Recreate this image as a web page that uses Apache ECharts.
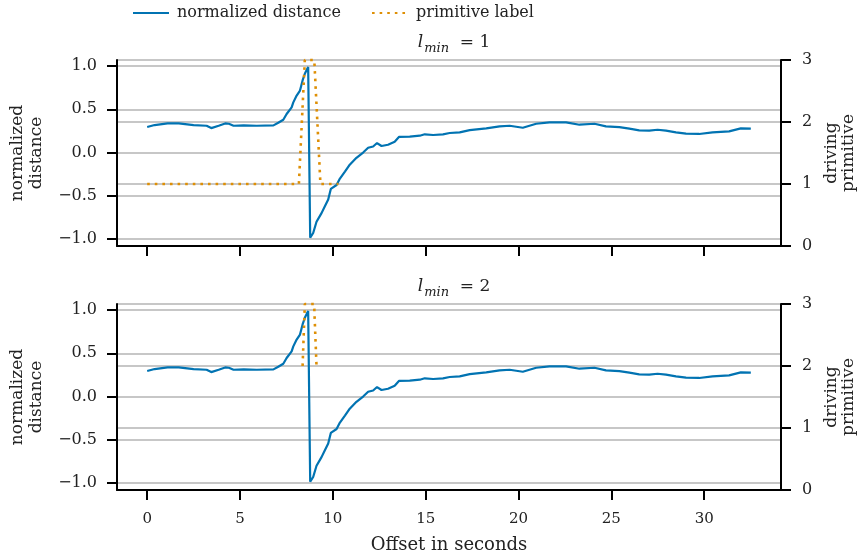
<!DOCTYPE html>
<html>
<head>
<meta charset="utf-8">
<script src="https://cdn.jsdelivr.net/npm/echarts@6/dist/echarts.min.js"></script>
<style>
  html, body { margin: 0; padding: 0; background: #fff; }
  #chart { width: 857px; height: 558px; }
</style>
</head>
<body>
<div id="chart"></div>
<script>
// offset in seconds and normalized distance (same signal in both panels)
var offsets = [0, 0.4, 1.1, 1.7, 2.5, 3.2, 3.45, 3.85, 4.2, 4.4, 4.65, 5.2, 5.9, 6.8,
  7.06, 7.33, 7.51, 7.78, 7.87, 8.05, 8.23, 8.37, 8.49, 8.67, 8.78, 8.94, 9.12, 9.39,
  9.57, 9.75, 9.89, 10.2, 10.38, 10.65, 10.91, 11.27, 11.63, 11.9, 12.17, 12.38, 12.62,
  12.97, 13.33, 13.57, 14.14, 14.68, 14.95, 15.4, 15.93, 16.29, 16.83, 17.37, 18.26,
  18.98, 19.52, 20.23, 20.95, 21.67, 22.56, 23.28, 24.09, 24.71, 25.43, 25.97, 26.5,
  27.04, 27.49, 27.94, 28.48, 29.02, 29.73, 30.45, 31.34, 31.97, 32.51];
var distance = [0.295, 0.318, 0.337, 0.337, 0.318, 0.31, 0.283, 0.31, 0.337, 0.333, 0.31,
  0.314, 0.31, 0.314, 0.345, 0.38, 0.446, 0.523, 0.58, 0.659, 0.717, 0.834, 0.911, 0.988,
  -0.985, -0.93, -0.8, -0.7, -0.62, -0.543, -0.42, -0.375, -0.3, -0.22, -0.14, -0.06, 0.0,
  0.055, 0.07, 0.11, 0.076, 0.09, 0.125, 0.182, 0.184, 0.195, 0.211, 0.203, 0.211, 0.226,
  0.234, 0.26, 0.28, 0.303, 0.31, 0.287, 0.333, 0.349, 0.349, 0.322, 0.333, 0.303, 0.295,
  0.276, 0.257, 0.253, 0.264, 0.253, 0.234, 0.218, 0.215, 0.234, 0.245, 0.28, 0.276];

// primitive label, l_min = 1
var labelOffsets1 = [0, 8.17, 8.49, 9.0, 9.33, 10.3];
var labelValues1 = [1, 1, 3, 3, 1, 1];
// primitive label, l_min = 2
var labelOffsets2 = [8.37, 8.49, 8.99, 9.12];
var labelValues2 = [2, 3, 3, 2];

var xTicks = [0, 5, 10, 15, 20, 25, 30];
var leftTicks = [-1, -0.5, 0, 0.5, 1];
var panelTitles = ["1", "2"];

var blue = "#0173b2";
var orange = "#de8f05";
var gridGray = "#b4b4b4";
var font = "DejaVu Serif";

function pairs(xs, ys) {
  return xs.map(function (x, i) { return [x, ys[i]]; });
}

var chart = echarts.init(document.getElementById("chart"));

var grids = [
  { left: 117, right: 76, top: 60, height: 186, outerBoundsMode: "none", containLabel: false },
  { left: 117, right: 76, top: 304, height: 186, outerBoundsMode: "none", containLabel: false }
];

function xAxisOf(i) {
  return {
    type: "value",
    gridIndex: i,
    min: -1.6255,
    max: 34.1355,
    axisLine: { show: true, onZero: false, lineStyle: { color: "#000", width: 2 } },
    axisTick: { show: true, length: 10, customValues: xTicks, lineStyle: { color: "#000", width: 2 } },
    axisLabel: {
      show: i === 1, customValues: xTicks, margin: 22,
      color: "#222", fontFamily: font, fontSize: 15
    },
    splitLine: { show: false },
    name: i === 1 ? "Offset in seconds" : "",
    nameLocation: "middle",
    nameGap: 46,
    nameTextStyle: { color: "#222", fontFamily: font, fontSize: 18 }
  };
}

function leftAxisOf(i) {
  return {
    type: "value",
    gridIndex: i,
    position: "left",
    min: -1.08,
    max: 1.07,
    axisLine: { show: true, onZero: false, lineStyle: { color: "#000", width: 2 } },
    axisTick: { show: true, length: 10, customValues: leftTicks, lineStyle: { color: "#000", width: 2 } },
    axisLabel: {
      customValues: leftTicks, margin: 20, color: "#222", fontFamily: font, fontSize: 16,
      formatter: function (v) { return (v < 0 ? "\u2212" : "") + Math.abs(v).toFixed(1); }
    },
    splitLine: { show: true, lineStyle: { color: gridGray, width: 1.6 } },
    name: "normalized\ndistance",
    nameLocation: "middle",
    nameRotate: 90,
    nameGap: 71,
    nameTextStyle: { color: "#222", fontFamily: font, fontSize: 17, lineHeight: 19 }
  };
}

function rightAxisOf(i) {
  return {
    type: "value",
    gridIndex: i,
    position: "right",
    min: 0,
    max: 3,
    interval: 1,
    axisLine: { show: true, onZero: false, lineStyle: { color: "#000", width: 2 } },
    axisTick: { show: true, length: 10, lineStyle: { color: "#000", width: 2 } },
    axisLabel: { margin: 21, color: "#222", fontFamily: font, fontSize: 16 },
    splitLine: { show: true, lineStyle: { color: gridGray, width: 1.6 } },
    name: "driving\nprimitive",
    nameLocation: "middle",
    nameRotate: 90,
    nameGap: 40,
    nameTextStyle: { color: "#222", fontFamily: font, fontSize: 17, lineHeight: 17 }
  };
}

var titleRich = {
  i: { fontFamily: font, fontStyle: "italic", fontWeight: "normal", fontSize: 17, color: "#222" },
  s: { fontFamily: font, fontStyle: "italic", fontWeight: "normal", fontSize: 13, color: "#222", padding: [12, 0, 0, 1] },
  n: { fontFamily: font, fontWeight: "normal", fontSize: 17, color: "#222" }
};

var option = {
  animation: false,
  backgroundColor: "#fff",
  title: panelTitles.map(function (t, i) {
    return {
      text: "{i|l}{s|min}{n|  = " + t + "}",
      left: 449,
      textAlign: "center",
      top: i === 0 ? 25 : 269,
      textStyle: { fontWeight: "normal", rich: titleRich }
    };
  }),
  legend: {
    left: 127,
    top: 0,
    itemWidth: 36,
    itemHeight: 14,
    itemGap: 30,
    itemStyle: { opacity: 0 },
    textStyle: { color: "#222", fontFamily: font, fontSize: 16, padding: [0, 0, 0, 3] },
    data: ["normalized distance", "primitive label"]
  },
  grid: grids,
  xAxis: [xAxisOf(0), xAxisOf(1)],
  yAxis: [leftAxisOf(0), rightAxisOf(0), leftAxisOf(1), rightAxisOf(1)],
  series: [
    {
      name: "normalized distance", type: "line", xAxisIndex: 0, yAxisIndex: 0,
      data: pairs(offsets, distance), symbol: "none", z: 3,
      lineStyle: { color: blue, width: 2.2 }, itemStyle: { color: blue }
    },
    {
      name: "primitive label", type: "line", xAxisIndex: 0, yAxisIndex: 1,
      data: pairs(labelOffsets1, labelValues1), symbol: "none", clip: false, z: 4,
      lineStyle: { color: orange, width: 2.6, type: [2.6, 5] }, itemStyle: { color: orange }
    },
    {
      name: "normalized distance", type: "line", xAxisIndex: 1, yAxisIndex: 2,
      data: pairs(offsets, distance), symbol: "none", z: 3,
      lineStyle: { color: blue, width: 2.2 }, itemStyle: { color: blue }
    },
    {
      name: "primitive label", type: "line", xAxisIndex: 1, yAxisIndex: 3,
      data: pairs(labelOffsets2, labelValues2), symbol: "none", clip: false, z: 4,
      lineStyle: { color: orange, width: 2.6, type: [2.6, 5] }, itemStyle: { color: orange }
    }
  ]
};

chart.setOption(option);
</script>
</body>
</html>
